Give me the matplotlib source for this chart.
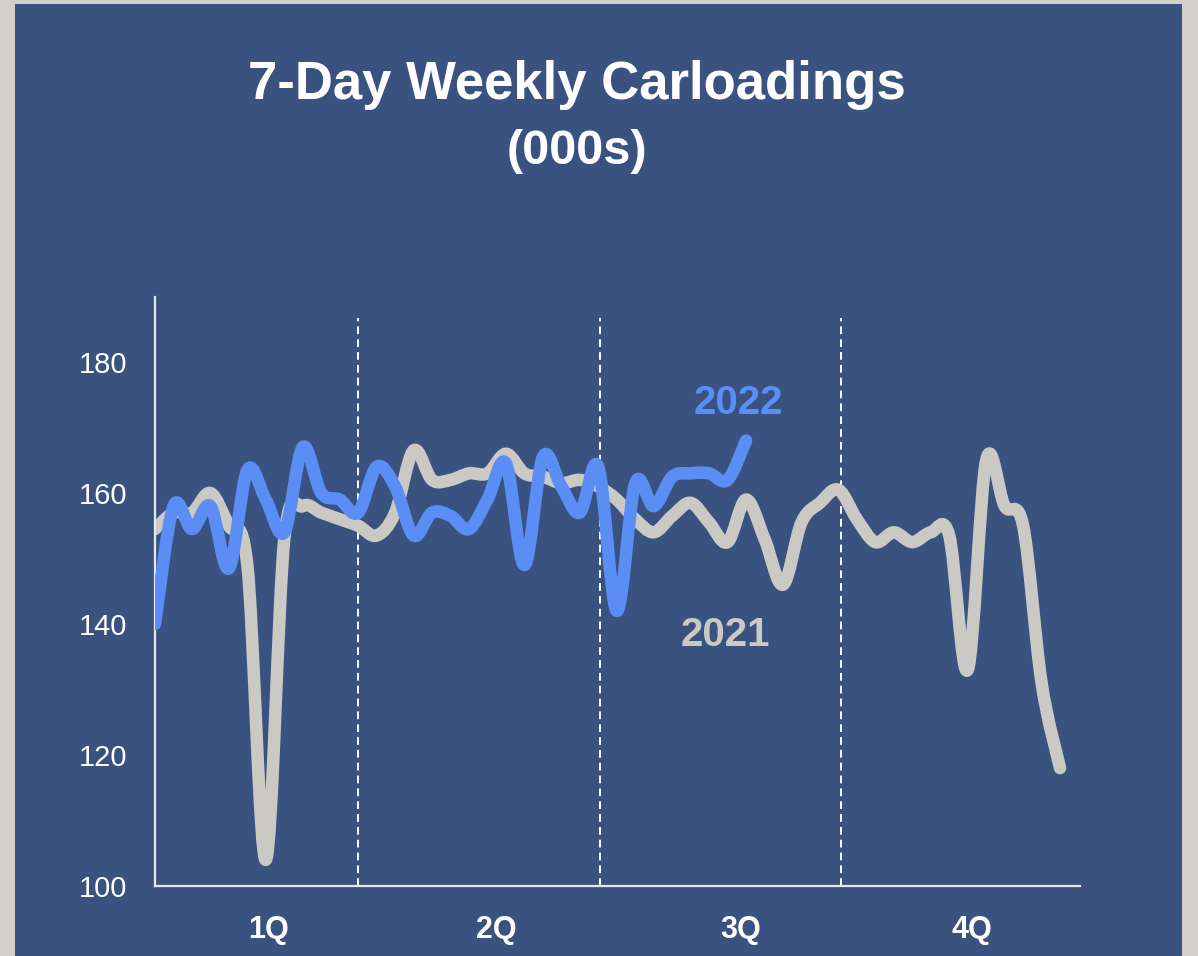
import matplotlib
matplotlib.use("Agg")
import matplotlib.pyplot as plt
from matplotlib.patches import Rectangle, PathPatch
from matplotlib.path import Path
import numpy as np

plt.rcParams['font.family'] = ['Liberation Sans', 'DejaVu Sans']

# ---- data (thousands of carloads, weekly) ----
loads_2021 = [154.5, 157, 157, 160, 155, 149, 104, 153, 158, 157,
              156, 155, 153.5, 157, 166.5, 162, 162, 163, 163, 166,
              163, 162.5, 161.5, 162, 161, 159, 156, 154, 156.5, 158.5,
              155.5, 152.5, 159, 153, 146, 155.5, 158.5, 160.5, 156, 152.5,
              154, 152.5, 154, 153.5, 133, 165, 158, 155, 131, 118]
loads_2022 = [140, 158, 154.5, 158, 148.5, 163.5, 159, 154, 167, 160,
              159, 157, 164, 161, 153.5, 157, 156.5, 154.5, 159, 164.5,
              149, 165.5, 161, 157, 164, 142, 161.5, 158, 162.5, 163,
              163, 162, 168]
quarter_labels = ['1Q', '2Q', '3Q', '4Q']
y_ticks = [100, 120, 140, 160, 180]

# layout constants (week-index axis)
quarter_bounds = [10.99, 24.09, 37.14]
quarter_label_pos = [6.15, 18.5, 31.7, 44.2]

C_2021 = '#cbc9c4'
C_2022 = '#5b8ef5'
BG = '#3a5280'


def smooth_path(y):
    x = np.arange(len(y), dtype=float)
    y = np.asarray(y, dtype=float)
    pts = np.column_stack([x, y])
    n = len(pts)
    verts = [pts[0]]
    codes = [Path.MOVETO]
    for i in range(n - 1):
        p0 = pts[i - 1] if i > 0 else pts[i]
        p1 = pts[i]
        p2 = pts[i + 1]
        p3 = pts[i + 2] if i + 2 < n else pts[i + 1]
        c1 = p1 + (p2 - p0) / 6.0
        c2 = p2 - (p3 - p1) / 6.0
        verts += [c1, c2, p2]
        codes += [Path.CURVE4] * 3
    return Path(verts, codes)


fig = plt.figure(figsize=(11.98, 9.56), dpi=100)
fig.patch.set_facecolor('#d3d0c9')
fig.add_artist(Rectangle((15 / 1198, 0), (1182 - 15) / 1198, (956 - 4) / 956,
                         transform=fig.transFigure, facecolor=BG,
                         edgecolor='none', zorder=0))

ax = fig.add_axes([155 / 1198, 70 / 956, 925 / 1198, 589.5 / 956])
ax.set_facecolor('none')
ax.set_xlim(0, 50.08)
ax.set_ylim(100, 190)

for s in ['top', 'right']:
    ax.spines[s].set_visible(False)
for s in ['left', 'bottom']:
    ax.spines[s].set_color('#e4e8f0')
    ax.spines[s].set_linewidth(1.6)

ax.vlines(quarter_bounds, 100, 186.7, colors='white', linewidth=1.4,
          linestyles=(0, (4, 2.6)), zorder=1)

ax.add_patch(PathPatch(smooth_path(loads_2021), facecolor='none',
                       edgecolor=C_2021, linewidth=9, capstyle='round',
                       joinstyle='round', zorder=2))
ax.add_patch(PathPatch(smooth_path(loads_2022), facecolor='none',
                       edgecolor=C_2022, linewidth=9, capstyle='round',
                       joinstyle='round', zorder=3))

ax.set_yticks(y_ticks)
ax.set_yticklabels([str(v) for v in y_ticks], fontsize=21, color='white')
ax.set_xticks(quarter_label_pos)
ax.set_xticklabels(quarter_labels, fontsize=22, color='white',
                   fontweight='bold')
ax.tick_params(axis='y', length=0, pad=20)
ax.tick_params(axis='x', length=0, pad=21)

ax.text(31.56, 173.7, '2022', color=C_2022, fontsize=29, fontweight='bold',
        ha='center', va='center')
ax.text(30.9, 138.3, '2021', color=C_2021, fontsize=29, fontweight='bold',
        ha='center', va='center')

fig.text(577 / 1198, 1 - 85 / 956, '7-Day Weekly Carloadings',
         ha='center', va='center', fontsize=38, fontweight='bold',
         color='white')
fig.text(577 / 1198, 1 - 152 / 956, '(000s)',
         ha='center', va='center', fontsize=35, fontweight='bold',
         color='white')

fig.savefig('out.png', dpi=100, facecolor=fig.get_facecolor())
